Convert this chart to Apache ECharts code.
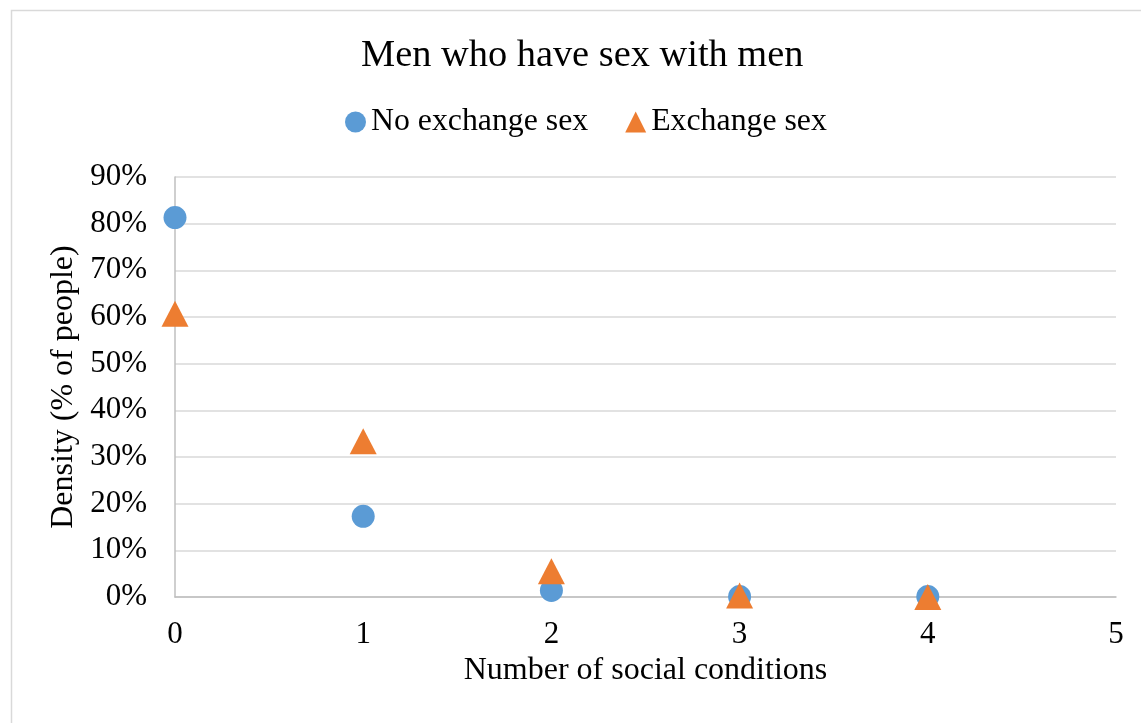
<!DOCTYPE html>
<html>
<head>
<meta charset="utf-8">
<script src="https://cdn.jsdelivr.net/npm/echarts@6/dist/echarts.min.js"></script>
<style>
html,body{margin:0;padding:0;background:#fff;}
#chart{width:1141px;height:723px;}
</style>
</head>
<body>
<div id="chart"></div>
<script>
const titleText = "Men who have sex with men";
const xName = "Number of social conditions";
const yName = "Density (% of people)";
const seriesNames = ["No exchange sex", "Exchange sex"];
const socialConditions = [0, 1, 2, 3, 4];
const noExchange = [81.3, 17.3, 1.4, 0.1, 0.1];
const exchange = [60.7, 33.4, 5.5, 0.3, 0.0];

const font = "'Liberation Serif', 'Times New Roman', serif";
const chart = echarts.init(document.getElementById('chart'), null, {renderer: 'canvas'});
chart.setOption({
  backgroundColor: '#fff',
  animation: false,
  graphic: [{
    type: 'rect', silent: true, z: -1,
    shape: {x: 11.5, y: 10.5, width: 1300, height: 900},
    style: {fill: 'none', stroke: '#d9d9d9', lineWidth: 1.5}
  }],
  title: {
    text: titleText, left: 356, top: 32,
    textStyle: {fontFamily: font, fontSize: 38.4, fontWeight: 'normal', color: '#000'}
  },
  legend: {
    top: 101, left: 340,
    itemWidth: 21, itemHeight: 21, itemGap: 37,
    textStyle: {fontFamily: font, fontSize: 31.8, color: '#000'},
    data: [
      {name: seriesNames[0], icon: 'circle'},
      {name: seriesNames[1], icon: 'triangle'}
    ]
  },
  grid: {left: 175, right: 25, top: 177, bottom: 126, containLabel: false},
  xAxis: {
    type: 'value', min: 0, max: 5, interval: 1,
    name: xName, nameLocation: 'middle', nameGap: 58,
    nameTextStyle: {fontFamily: font, fontSize: 32, color: '#000'},
    axisLine: {show: true, lineStyle: {color: '#bfbfbf', width: 1.5}},
    axisTick: {show: false},
    splitLine: {show: false},
    axisLabel: {fontFamily: font, fontSize: 31, color: '#000', margin: 22}
  },
  yAxis: {
    type: 'value', min: 0, max: 90, interval: 10,
    name: yName, nameLocation: 'middle', nameGap: 94,
    nameTextStyle: {fontFamily: font, fontSize: 32, color: '#000'},
    axisLine: {show: true, lineStyle: {color: '#bfbfbf', width: 1.5}},
    axisTick: {show: false},
    splitLine: {show: true, lineStyle: {color: '#d9d9d9', width: 1.5}},
    axisLabel: {fontFamily: font, fontSize: 31, color: '#000', margin: 28, formatter: '{value}%'}
  },
  series: [
    {
      name: seriesNames[0], type: 'scatter', symbol: 'circle', symbolSize: 23,
      itemStyle: {color: '#5B9BD5', opacity: 1},
      data: socialConditions.map((x, i) => [x, noExchange[i]])
    },
    {
      name: seriesNames[1], type: 'scatter', symbol: 'triangle', symbolSize: [27, 26],
      itemStyle: {color: '#ED7D31', opacity: 1},
      data: socialConditions.map((x, i) => [x, exchange[i]])
    }
  ]
});
</script>
</body>
</html>
